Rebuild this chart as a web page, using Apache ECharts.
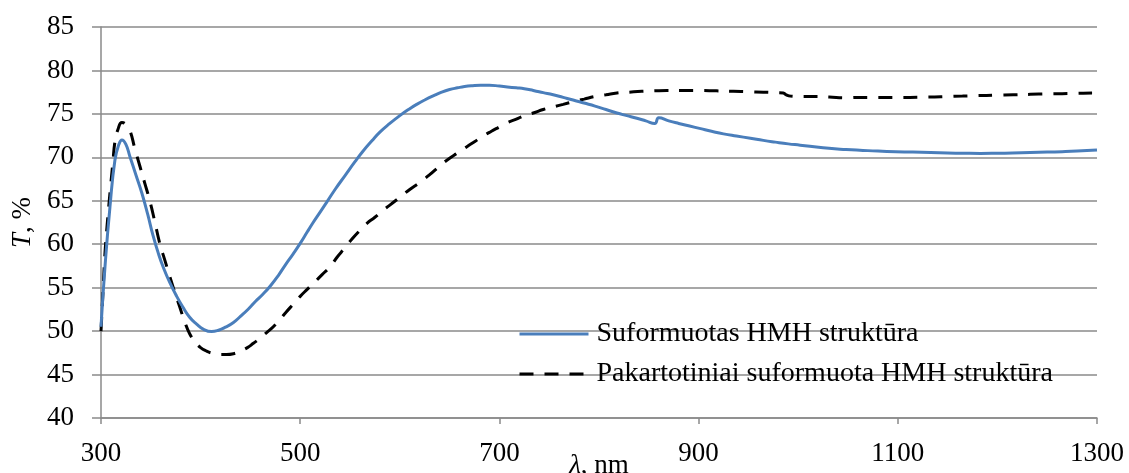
<!DOCTYPE html>
<html>
<head>
<meta charset="utf-8">
<title>T, %</title>
<script src="https://cdn.jsdelivr.net/npm/echarts@6/dist/echarts.min.js"></script>
<style>
  html, body { margin: 0; padding: 0; background: #fff; }
  #chart { width: 1129px; height: 473px; }
</style>
</head>
<body>
<div id="chart"></div>
<script>
// Transmittance spectra of the HMH structure (wavelength in nm, T in %)
const seriesNames = ['Suformuotas HMH struktūra', 'Pakartotiniai suformuota HMH struktūra'];

const wavelengthA = [300,304,309,314,318,321,325,329,335,341,347,352,358,363,369,376,382,389,396,403,
  411,418,425,433,440,448,455,463,470,478,485,493,500,507,513,520,527,535,545,555,
  563,572,580,590,600,610,617,625,634,642,650,658,665,673,681,690,700,708,717,725,
  734,744,754,764,774,785,796,807,818,828,838,847,856,860,870,880,891,902,913,925,
  938,952,965,977,990,1002,1025,1048,1065,1080,1098,1115,1133,1150,1166,1183,1200,1215,1233,1250,
  1265,1280,1300];
const transA = [50.5,57.4,64.3,69.7,71.5,72.0,71.5,70.1,68.0,65.9,63.4,61.1,58.8,57.2,55.6,54.0,52.8,51.6,50.8,50.2,
  49.95,50.1,50.45,51.0,51.7,52.55,53.4,54.3,55.2,56.4,57.6,58.9,60.1,61.4,62.5,63.7,64.9,66.3,67.9,69.5,
  70.7,71.9,72.9,73.9,74.8,75.6,76.1,76.6,77.1,77.5,77.8,78.0,78.15,78.25,78.3,78.3,78.2,78.1,78.0,77.9,
  77.7,77.45,77.2,76.9,76.6,76.25,75.9,75.5,75.1,74.8,74.5,74.2,73.9,74.55,74.2,73.9,73.6,73.3,73.0,72.7,
  72.45,72.2,71.95,71.75,71.55,71.4,71.1,70.9,70.8,70.72,70.65,70.6,70.55,70.5,70.47,70.45,70.47,70.5,70.55,70.6,
  70.65,70.72,70.85];

const wavelengthB = [300,302,304,306,309,312,314,317,321,325,329,334,339,344,349,354,359,364,369,374,
  379,384,389,395,400,406,412,419,426,433,440,447,453,460,466,473,480,486,493,500,
  507,515,522,530,537,545,552,560,567,575,582,590,600,610,620,630,640,650,658,667,
  675,683,692,700,708,717,725,734,744,754,764,774,785,796,807,818,830,843,855,868,
  884,900,918,935,950,965,978,985,988,992,1003,1015,1031,1047,1060,1072,1085,1099,1112,1125,
  1137,1149,1165,1180,1198,1216,1233,1250,1265,1280,1297,1300];
const transB = [50.0,54.5,59.0,62.0,65.9,69.5,71.8,73.2,74.0,73.8,73.1,71.0,69.0,67.0,65.0,62.6,60.1,58.2,56.3,54.5,
  52.8,51.1,49.7,48.7,48.1,47.7,47.45,47.3,47.3,47.4,47.7,48.1,48.6,49.2,49.8,50.5,51.4,52.2,53.1,54.0,
  54.8,55.7,56.5,57.4,58.5,59.6,60.6,61.6,62.4,63.1,63.8,64.5,65.4,66.3,67.1,68.0,69.0,69.9,70.5,71.2,
  71.8,72.4,73.0,73.5,74.0,74.4,74.8,75.1,75.5,75.8,76.1,76.4,76.7,77.0,77.2,77.4,77.5,77.6,77.65,77.7,
  77.7,77.7,77.65,77.6,77.55,77.5,77.45,77.4,77.2,77.05,77.0,77.0,76.95,76.85,76.9,76.9,76.9,76.9,76.9,76.92,
  76.95,77.0,77.05,77.1,77.15,77.2,77.25,77.3,77.33,77.37,77.4,77.4];

const pairs = (xs, ys) => xs.map((x, i) => [x, ys[i]]);

const FONT = "'Liberation Serif', 'Times New Roman', serif";
const GRID_GRAY = '#8a8a8a';

const chart = echarts.init(document.getElementById('chart'), null, { renderer: 'canvas' });

chart.setOption({
  animation: false,
  backgroundColor: '#ffffff',
  textStyle: { fontFamily: FONT, color: '#000' },
  grid: { left: 101, right: 32, top: 27, bottom: 55, containLabel: false, outerBoundsMode: 'none' },
  legend: {
    orient: 'vertical',
    left: 518,
    top: 320,
    padding: 0,
    itemWidth: 69,
    itemHeight: 14,
    itemGap: 12,
    itemStyle: { opacity: 0 },
    lineStyle: { width: 3 },
    textStyle: { fontFamily: FONT, fontSize: 28, color: '#000', padding: [0, 0, 0, 3] },
    data: seriesNames
  },
  xAxis: {
    type: 'value',
    min: 300,
    max: 1300,
    interval: 200,
    name: '{i|λ}, nm',
    nameLocation: 'middle',
    nameGap: 34,
    nameMoveOverlap: false,
    nameTextStyle: {
      fontFamily: FONT, fontSize: 27, color: '#000',
      rich: { i: { fontFamily: FONT, fontSize: 27, fontStyle: 'italic', color: '#000' } }
    },
    axisLine: { show: true, lineStyle: { color: GRID_GRAY, width: 1.5 } },
    axisTick: { show: true, length: 6, lineStyle: { color: GRID_GRAY, width: 1.5 } },
    axisLabel: { fontFamily: FONT, fontSize: 27, color: '#000', margin: 22, formatter: (v) => String(v) },
    splitLine: { show: false }
  },
  yAxis: {
    type: 'value',
    min: 40,
    max: 85,
    interval: 5,
    name: '{i|T}, %',
    nameLocation: 'middle',
    nameGap: 64,
    nameTextStyle: {
      fontFamily: FONT, fontSize: 27, color: '#000',
      rich: { i: { fontFamily: FONT, fontSize: 27, fontStyle: 'italic', color: '#000' } }
    },
    axisLine: { show: true, lineStyle: { color: GRID_GRAY, width: 1.5 } },
    axisTick: { show: true, length: 9, lineStyle: { color: GRID_GRAY, width: 1.5 } },
    axisLabel: { fontFamily: FONT, fontSize: 27, color: '#000', margin: 27, formatter: (v) => String(v) },
    splitLine: { show: true, lineStyle: { color: GRID_GRAY, width: 1.5 } }
  },
  series: [
    {
      name: seriesNames[0],
      type: 'line',
      data: pairs(wavelengthA, transA),
      symbol: 'none',
      smooth: 0.5,
      z: 3,
      lineStyle: { color: '#4a7ebb', width: 3, join: 'round' },
      itemStyle: { color: '#4a7ebb' }
    },
    {
      name: seriesNames[1],
      type: 'line',
      data: pairs(wavelengthB, transB),
      symbol: 'none',
      smooth: 0.5,
      z: 2,
      lineStyle: { color: '#000000', width: 3, type: [14, 11] },
      itemStyle: { color: '#000000' }
    }
  ]
});
</script>
</body>
</html>
